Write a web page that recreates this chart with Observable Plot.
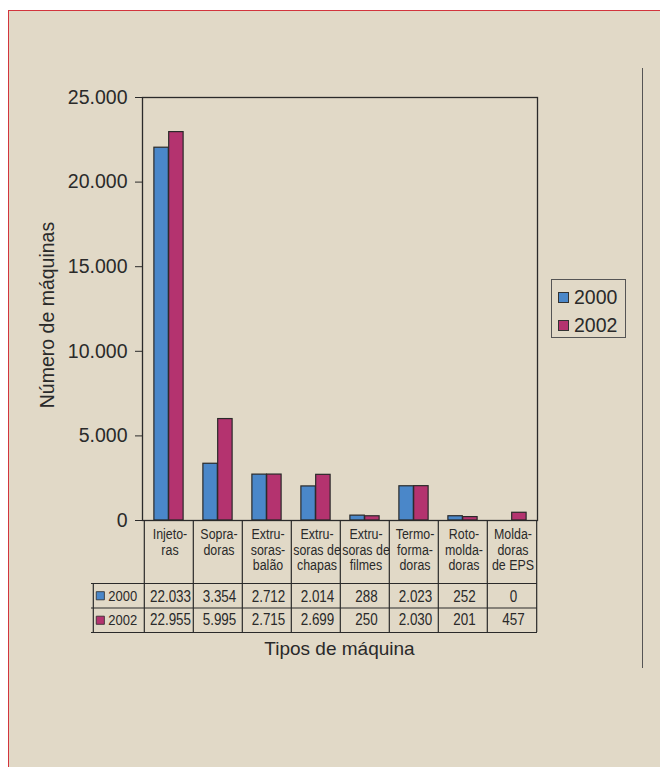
<!DOCTYPE html>
<html>
<head>
<meta charset="utf-8">
<script src="https://cdn.jsdelivr.net/npm/d3@7"></script>
<script src="https://cdn.jsdelivr.net/npm/@observablehq/plot@0.6"></script>
<style>
  html, body { margin: 0; padding: 0; width: 660px; height: 767px; overflow: hidden; background: #fff; font-family: "Liberation Sans", Arial, Helvetica, sans-serif; color: #222; }
  #panel { position: absolute; left: 8px; top: 10px; right: 0; bottom: 0; background: #e1d9c7; border-top: 1.5px solid #d2353d; border-left: 1.5px solid #d2353d; }
  #chart { position: absolute; left: 0; top: 0; }
  #sep { position: absolute; left: 642px; top: 68px; width: 1.3px; height: 600px; background: #555; }
  #legend { position: absolute; left: 551px; top: 279px; width: 73px; height: 57px; border: 1.3px solid #555; }
  .li { position: absolute; left: 6px; font-size: 19.5px; line-height: 20px; color: #2a2a2a; }
  .sw { display: inline-block; width: 9px; height: 9px; border: 1px solid #333; margin-right: 5px; vertical-align: 1px; }
  #xlabel { position: absolute; left: 142px; width: 395px; top: 638px; text-align: center; font-size: 19px; color: #2a2a2a; }
</style>
</head>
<body>
<div id="panel"></div>
<div id="sep"></div>
<div id="chart"></div>
<div id="legend"></div>
<div id="xlabel"></div>
<script>
// ---- data ----
const categories = ["Injetoras", "Sopradoras", "Extrusoras-balão", "Extrusoras de chapas", "Extrusoras de filmes", "Termoformadoras", "Rotomoldadoras", "Moldadoras de EPS"];
const categoryLabels = ["Injeto-\nras", "Sopra-\ndoras", "Extru-\nsoras-\nbalão", "Extru-\nsoras de\nchapas", "Extru-\nsoras de\nfilmes", "Termo-\nforma-\ndoras", "Roto-\nmolda-\ndoras", "Molda-\ndoras\nde EPS"];
const years = ["2000", "2002"];
const values2000 = [22033, 3354, 2712, 2014, 288, 2023, 252, 0];
const values2002 = [22955, 5995, 2715, 2699, 250, 2030, 201, 457];
const yTicks = [0, 5000, 10000, 15000, 20000, 25000];
const yLabel = "Número de máquinas";
const xLabel = "Tipos de máquina";
const colors = ["#4a87c9", "#b4336f"];

// ---- layout ----
const W = 660, H = 767;
const mL = 142, mR = 123, mT = 97, mB = 247;
const frameH = H - mT - mB;
const bw = (W - mL - mR) / categories.length;
const barW = 14.8;
const rowLabelW = 51;
const headH = 63, rowH = 24.5;
const tableH = headH + 2 * rowH;
const fmt = d => d3.format(",")(d).replace(/,/g, ".");
const ink = "#2a2a2a";
const condense = 0.84; // horizontal squeeze of the table's condensed type
const TT = "table-text";

const series = [values2000, values2002];
const rows = [];
years.forEach((y, j) => categories.forEach((c, i) => rows.push({cat: c, year: y, value: series[j][i]})));

const marks = [
  // bars
  Plot.barY(rows.filter(d => d.year === years[0] && d.value > 0), {x: "cat", y: "value", fill: "year", stroke: ink, strokeWidth: 1.2, insetLeft: bw / 2 - barW, insetRight: bw / 2}),
  Plot.barY(rows.filter(d => d.year === years[1] && d.value > 0), {x: "cat", y: "value", fill: "year", stroke: ink, strokeWidth: 1.2, insetLeft: bw / 2, insetRight: bw / 2 - barW}),
  Plot.frame({stroke: ink, strokeWidth: 1.3}),
  Plot.axisY({ticks: yTicks, tickFormat: fmt, tickSize: 7, tickPadding: 8, fontSize: 19.5, label: null, stroke: ink}),
  Plot.text([yLabel], {frameAnchor: "left", textAnchor: "middle", rotate: -90, dx: -95, dy: 6, fontSize: 19.5, fill: ink}),
  // table: vertical separators
  Plot.ruleX(categories, {x: d => d, dx: -bw / 2, insetTop: frameH, insetBottom: -tableH, stroke: ink, strokeWidth: 1.2}),
  Plot.ruleX([categories[categories.length - 1]], {x: d => d, dx: bw / 2, insetTop: frameH, insetBottom: -tableH, stroke: ink, strokeWidth: 1.2}),
  Plot.ruleX([categories[0]], {x: d => d, dx: -bw / 2 - rowLabelW, insetTop: frameH + headH, insetBottom: -tableH, stroke: ink, strokeWidth: 1.2}),
  // table: horizontal lines
  Plot.ruleY([0], {dy: headH, insetLeft: -rowLabelW, stroke: ink, strokeWidth: 1.2}),
  Plot.ruleY([0], {dy: headH + rowH, insetLeft: -rowLabelW, stroke: ink, strokeWidth: 1.2}),
  Plot.ruleY([0], {dy: tableH, insetLeft: -rowLabelW, stroke: ink, strokeWidth: 1.2}),
  // category labels
  Plot.text(categories, {x: d => d, y: 0, text: (d, i) => categoryLabels[i], lineAnchor: "top", dy: 8, dx: 1, fontSize: 14.8, lineHeight: 1.03, fill: ink, ariaDescription: TT}),
  // values
  Plot.text(rows.filter(d => d.year === years[0]), {x: "cat", y: 0, text: d => fmt(d.value), dy: headH + rowH / 2 + 1, dx: 1.5, fontSize: 16, fill: ink, ariaDescription: TT}),
  Plot.text(rows.filter(d => d.year === years[1]), {x: "cat", y: 0, text: d => fmt(d.value), dy: headH + rowH * 1.5, dx: 1.5, fontSize: 16, fill: ink, ariaDescription: TT})
];
// row labels of the table
years.forEach((yr, j) => {
  marks.push(Plot.dot([yr], {x: () => categories[0], y: 0, dx: -bw / 2 - rowLabelW + 7, dy: headH + rowH * (j + 0.5), symbol: "square", r: 4.6, fill: d => d, stroke: ink, strokeWidth: 0.8}));
  marks.push(Plot.text([yr], {x: () => categories[0], y: 0, dx: -bw / 2 - rowLabelW + 15, dy: headH + rowH * (j + 0.5), text: d => d, textAnchor: "start", fontSize: 15.5, fill: ink, ariaDescription: TT}));
});

const chart = Plot.plot({
  width: W, height: H,
  marginLeft: mL, marginRight: mR, marginTop: mT, marginBottom: mB,
  style: {background: "transparent", fontFamily: "'Liberation Sans', Arial, Helvetica, sans-serif", color: ink, overflow: "visible"},
  x: {type: "band", domain: categories, padding: 0, axis: null},
  y: {domain: [0, 25000], axis: null},
  color: {domain: years, range: colors},
  marks
});
// condensed look for the table type: squeeze each text horizontally about its anchor
d3.select(chart).selectAll("g").filter(function () {
  return this.getAttribute("aria-description") === TT;
}).selectAll("text").each(function () {
  const t = this.getAttribute("transform");
  if (t) this.setAttribute("transform", t + ` scale(${condense},1)`);
  else {
    const x = +this.getAttribute("x") || 0, y = +this.getAttribute("y") || 0;
    this.setAttribute("transform", `translate(${x},${y}) scale(${condense},1)`);
    this.removeAttribute("x"); this.removeAttribute("y");
  }
});
document.getElementById("chart").appendChild(chart);

// legend & x label
const legend = document.getElementById("legend");
years.forEach((yr, j) => {
  const item = document.createElement("div");
  item.className = "li";
  item.style.top = (7 + j * 28) + "px";
  item.innerHTML = `<span class="sw" style="background:${colors[j]}"></span>${yr}`;
  legend.appendChild(item);
});
document.getElementById("xlabel").textContent = xLabel;
</script>
</body>
</html>
